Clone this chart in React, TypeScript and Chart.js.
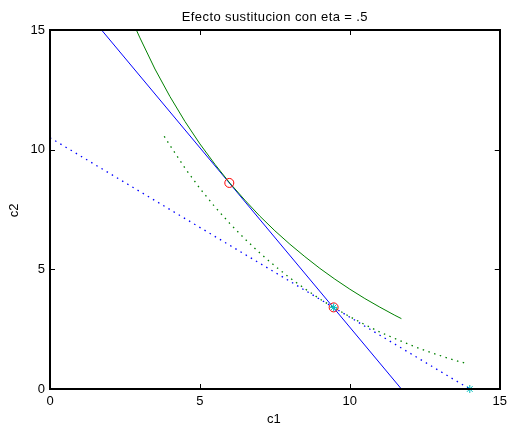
import React, { useEffect, useRef } from "react";
import { Chart, registerables } from "chart.js";
Chart.register(...registerables);

const titleText = "Efecto sustitucion con eta = .5";
const xLabel = "c1";
const yLabel = "c2";
const tickValues = [0, 5, 10, 15];

// original indifference curve (solid green)
const curve1C1 = [2.88, 3, 3.5, 4, 4.5, 5, 5.5, 6, 6.5, 7, 7.5, 8, 8.5, 9, 9.5, 10, 10.5, 11, 11.5, 11.72];
const curve1C2 = [15.0, 14.67, 13.37, 12.22, 11.18, 10.24, 9.39, 8.6, 7.89, 7.22, 6.61, 6.05, 5.53, 5.04, 4.59, 4.17, 3.78, 3.42, 3.08, 2.94];

// new indifference curve (dotted green)
const curve2C1 = [3.81, 4, 4.5, 5, 5.5, 6, 6.5, 7, 7.5, 8, 8.5, 9, 9.5, 10, 10.5, 11, 11.5, 12, 12.5, 13, 13.5, 13.94];
const curve2C2 = [10.56, 10.18, 9.23, 8.38, 7.61, 6.91, 6.27, 5.68, 5.14, 4.64, 4.19, 3.76, 3.38, 3.02, 2.69, 2.38, 2.11, 1.85, 1.61, 1.4, 1.2, 1.05];

// compensated budget line (solid blue)
const budget1C1 = [1.72, 11.72];
const budget1C2 = [15, 0];

// new budget line (dotted blue)
const budget2C1 = [0, 14];
const budget2C2 = [10.5, 0];

// optima (red circles)
const optC1 = [5.98, 9.46];
const optC2 = [8.61, 3.41];

// cyan stars
const starC1 = [9.46, 14];
const starC2 = [3.41, 0];

const pts = (xs: number[], ys: number[]) => xs.map((x, i) => ({ x, y: ys[i] }));

const FONT = "'Liberation Sans', Arial, sans-serif";

const decor = {
  id: "decor",
  afterDraw(chart: any) {
    const { ctx, chartArea: a, scales } = chart;
    const x = scales.x;
    const y = scales.y;
    ctx.save();
    ctx.strokeStyle = "#000";
    ctx.lineWidth = 1;
    const L = 5;
    ctx.beginPath();
    [5, 10].forEach((v) => {
      const px = Math.round(x.getPixelForValue(v)) + 0.5;
      ctx.moveTo(px, a.bottom);
      ctx.lineTo(px, a.bottom - L);
      ctx.moveTo(px, a.top);
      ctx.lineTo(px, a.top + L);
      const py = Math.round(y.getPixelForValue(v)) + 0.5;
      ctx.moveTo(a.left, py);
      ctx.lineTo(a.left + L, py);
      ctx.moveTo(a.right, py);
      ctx.lineTo(a.right - L, py);
    });
    ctx.stroke();
    ctx.lineWidth = 2;
    ctx.strokeRect(Math.round(a.left), Math.round(a.top), Math.round(a.right - a.left), Math.round(a.bottom - a.top));

    ctx.fillStyle = "#000";
    ctx.font = `13px ${FONT}`;
    ctx.textAlign = "center";
    ctx.textBaseline = "alphabetic";
    const mid = (a.left + a.right) / 2;
    (ctx as any).letterSpacing = "0.4px";
    ctx.fillText(titleText, mid, 21);
    (ctx as any).letterSpacing = "0px";
    ctx.fillText(xLabel, mid - 1, 423);
    ctx.translate(18, (a.top + a.bottom) / 2 + 1);
    ctx.rotate(-Math.PI / 2);
    ctx.fillText(yLabel, 0, 0);
    ctx.restore();
  },
};

export default function App() {
  const ref = useRef<HTMLCanvasElement | null>(null);
  useEffect(() => {
    if (!ref.current) return;
    const chart = new Chart(ref.current, {
      type: "scatter",
      data: {
        datasets: [
          {
            label: "stars",
            data: pts(starC1, starC2),
            showLine: false,
            pointStyle: "star",
            pointRadius: 4,
            borderColor: "#00BFBF",
            backgroundColor: "#00BFBF",
            pointBorderWidth: 1,
            clip: false,
            order: 0,
          } as any,
          {
            label: "optima",
            data: pts(optC1, optC2),
            showLine: false,
            pointStyle: "circle",
            pointRadius: 4.5,
            borderColor: "#FF0000",
            backgroundColor: "rgba(0,0,0,0)",
            pointBorderWidth: 1,
            clip: false,
            order: 1,
          } as any,
          {
            label: "curve1",
            data: pts(curve1C1, curve1C2),
            showLine: true,
            pointRadius: 0,
            borderColor: "#008000",
            borderWidth: 1,
            order: 2,
          },
          {
            label: "curve2",
            data: pts(curve2C1, curve2C2),
            showLine: true,
            pointRadius: 0,
            borderColor: "#008000",
            borderWidth: 1.3,
            borderDash: [1.5, 4.5],
            order: 3,
          },
          {
            label: "budget1",
            data: pts(budget1C1, budget1C2),
            showLine: true,
            pointRadius: 0,
            borderColor: "#0000FF",
            borderWidth: 1,
            order: 4,
          },
          {
            label: "budget2",
            data: pts(budget2C1, budget2C2),
            showLine: true,
            pointRadius: 0,
            borderColor: "#0000FF",
            borderWidth: 1.3,
            borderDash: [1.5, 4.5],
            order: 5,
          },
        ],
      },
      options: {
        animation: false,
        responsive: false,
        devicePixelRatio: 1,
        layout: { padding: { top: 30, right: 9, left: 0, bottom: 0 } },
        plugins: {
          legend: { display: false },
          title: { display: false },
          tooltip: { enabled: false },
        },
        scales: {
          x: {
            type: "linear",
            min: 0,
            max: 15,
            afterFit: (s: any) => {
              s.height = 39;
            },
            afterBuildTicks: (s: any) => {
              s.ticks = tickValues.map((v) => ({ value: v }));
            },
            grid: { display: false, drawTicks: false },
            border: { display: false },
            ticks: { padding: 5, color: "#000", font: { family: FONT, size: 13 }, maxRotation: 0 },
          },
          y: {
            type: "linear",
            min: 0,
            max: 15,
            afterFit: (s: any) => {
              s.width = 50;
            },
            afterBuildTicks: (s: any) => {
              s.ticks = tickValues.map((v) => ({ value: v }));
            },
            grid: { display: false, drawTicks: false },
            border: { display: false },
            ticks: { padding: 5, color: "#000", font: { family: FONT, size: 13 } },
          },
        },
      },
      plugins: [decor],
    });
    return () => chart.destroy();
  }, []);
  return (
    <div style={{ position: "absolute", left: 0, top: 0, width: 512, height: 428, background: "#fff" }}>
      <canvas ref={ref} width={512} height={428} />
    </div>
  );
}
